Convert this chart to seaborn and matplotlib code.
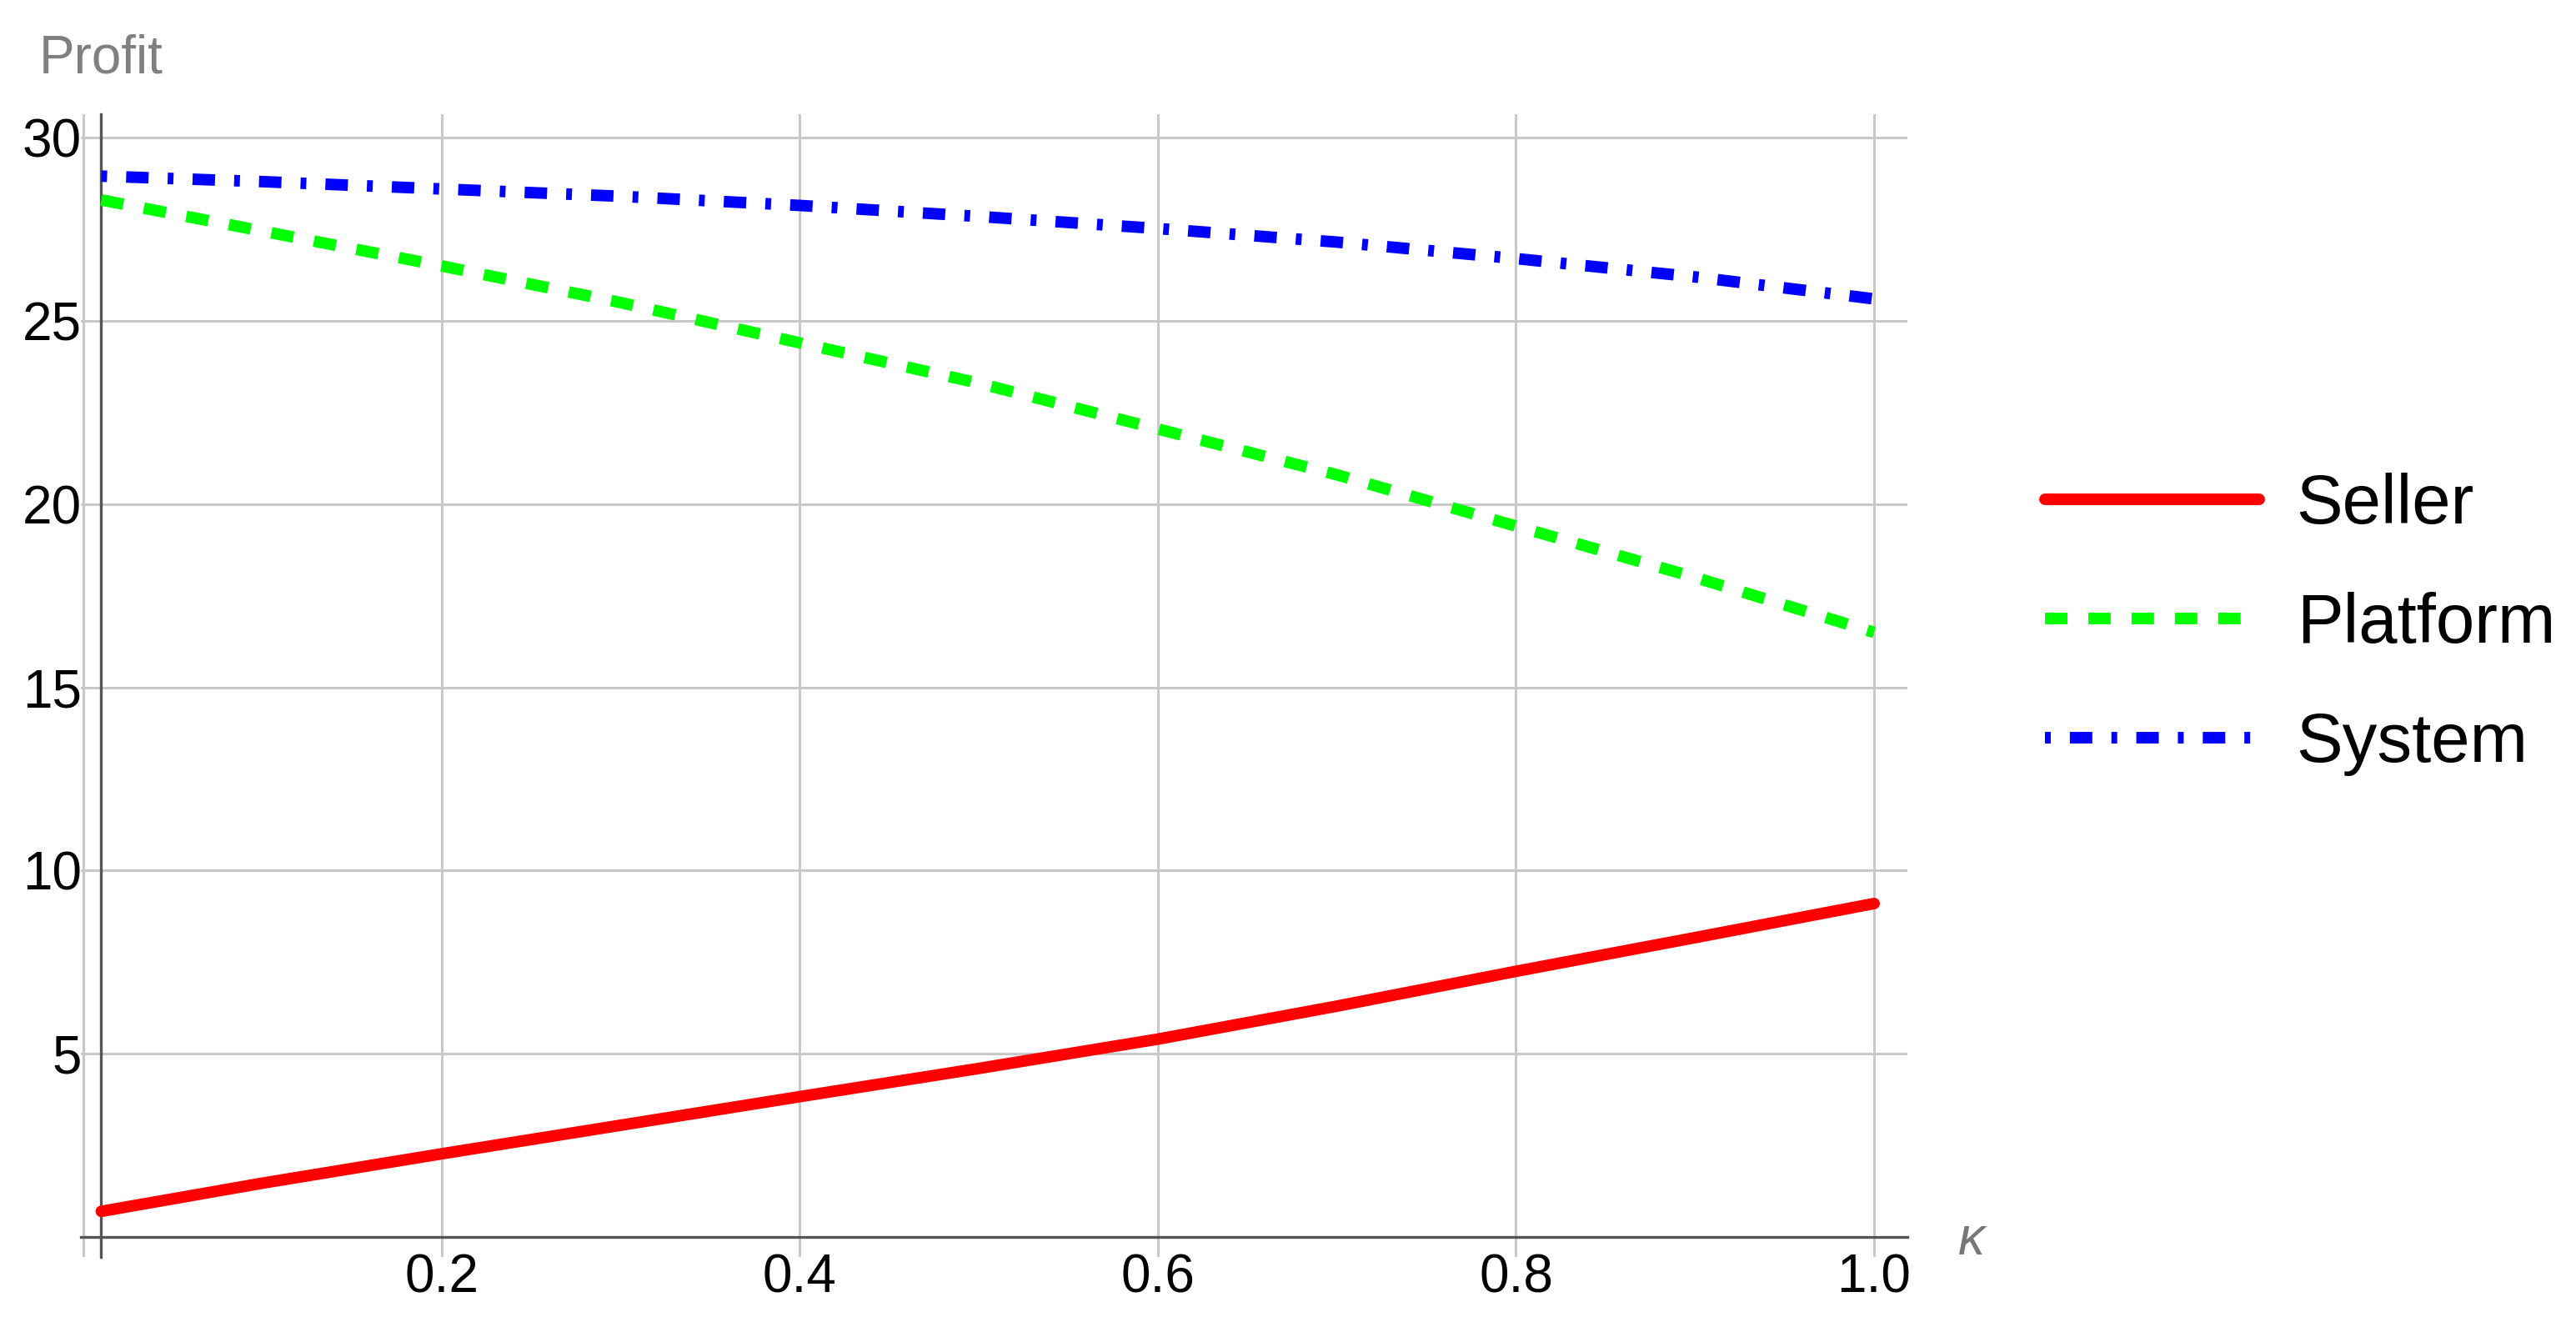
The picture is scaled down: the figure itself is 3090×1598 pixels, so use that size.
import numpy as np
import pandas as pd
import matplotlib
matplotlib.use('Agg')
import matplotlib.pyplot as plt
from matplotlib.ticker import FixedLocator, NullFormatter
import seaborn as sns

# data
kappa = [0.01, 0.1, 0.2, 0.3, 0.4, 0.5, 0.6, 0.7, 0.8, 0.9, 1.0]
seller = [0.7, 1.47, 2.27, 3.05, 3.83, 4.6, 5.4, 6.3, 7.25, 8.17, 9.1]
platform = [28.3, 27.45, 26.5, 25.5, 24.4, 23.3, 22.05, 20.8, 19.4, 18.0, 16.5]
system = [28.95, 28.8, 28.6, 28.4, 28.15, 27.85, 27.52, 27.15, 26.7, 26.2, 25.6]

series_names = ['Seller', 'Platform', 'System']
series_colors = ['#ff0000', '#00ff00', '#0000ff']
series_styles = ['-', (0, (1.94, 1.8)), (3.59, (1.94, 1.65, 0.5, 1.65))]

x_major = [0.2, 0.4, 0.6, 0.8, 1.0]
x_labels = ['0.2', '0.4', '0.6', '0.8', '1.0']
y_major = [5, 10, 15, 20, 25, 30]
y_labels = ['5', '10', '15', '20', '25', '30']

sns.set_style('white')
plt.rcParams['font.family'] = ['Liberation Sans', 'DejaVu Sans']
plt.rcParams['text.color'] = 'black'

W, H = 3090, 1598
fig = plt.figure(figsize=(W / 100, H / 100), dpi=100)
ax = fig.add_axes([97 / W, 1 - 1508 / H, (2288 - 97) / W, (1508 - 137) / H])

df = pd.DataFrame({'kappa': kappa, 'Seller': seller,
                   'Platform': platform, 'System': system})

for name, col, ls in zip(series_names, series_colors, series_styles):
    sns.lineplot(data=df, x='kappa', y=name, ax=ax, color=col,
                 linewidth=10, linestyle=ls, zorder=3)
handles = list(ax.lines[:3])

ax.set_xlim(-0.0014, 1.0186)
ax.set_ylim(-0.545, 30.64)

# grid lines
grid_x = [0.0] + x_major
for gx in grid_x:
    ax.axvline(gx, color='#c8c8c8', lw=2.2, zorder=1)
for gy in y_major:
    ax.axhline(gy, color='#c8c8c8', lw=2.2, zorder=1)

# axes through the origin, Mathematica style
for s in ['top', 'right']:
    ax.spines[s].set_visible(False)
ax.spines['left'].set_position(('data', 0.01))
ax.spines['bottom'].set_position(('data', 0))
for s in ['left', 'bottom']:
    ax.spines[s].set_color('#555555')
    ax.spines[s].set_linewidth(2.4)
    ax.spines[s].set_zorder(2)

ax.xaxis.set_major_locator(FixedLocator(x_major))
ax.set_xticklabels(x_labels)
ax.xaxis.set_minor_locator(FixedLocator(
    [v / 100 for v in range(5, 100, 5) if v % 20 != 0]))
ax.yaxis.set_major_locator(FixedLocator(y_major))
ax.set_yticklabels(y_labels)
ax.yaxis.set_minor_locator(FixedLocator(
    [v for v in range(1, 30) if v % 5 != 0]))
ax.xaxis.set_minor_formatter(NullFormatter())
ax.yaxis.set_minor_formatter(NullFormatter())

ax.tick_params(which='both', direction='in', color='#555555', width=2.2,
               labelsize=46, labelcolor='black')
ax.tick_params(axis='x', which='major', length=18, pad=14)
ax.tick_params(axis='x', which='minor', length=12)
ax.tick_params(axis='y', which='major', length=18, pad=17)
ax.tick_params(axis='y', which='minor', length=10)
ax.set_xlabel('')
ax.set_ylabel('')

fig.text(47 / W, 1 - 88 / H, 'Profit', fontsize=46, color='#808080',
         ha='left', va='baseline')
fig.text(2365 / W, 1 - 1488 / H, 'κ', fontsize=46, color='#777777',
         style='italic', ha='center', va='center')

ax.legend(handles, series_names, loc='center left',
          bbox_to_anchor=(2453 / W, 1 - 749 / H),
          bbox_transform=fig.transFigure, frameon=False, fontsize=60,
          handlelength=3.08, handletextpad=0.54, labelspacing=0.78,
          borderpad=0, borderaxespad=0, labelcolor='black')

fig.savefig('out.png', dpi=100, facecolor='white')
